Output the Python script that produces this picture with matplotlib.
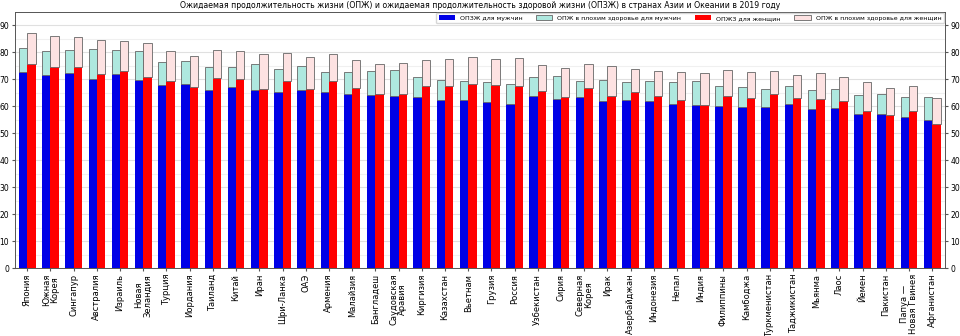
import matplotlib
matplotlib.use("Agg")
import matplotlib.pyplot as plt
import numpy as np

countries = ["Япония", "Южная\nКорея", "Сингапур", "Австралия", "Израиль", "Новая\nЗеландия",
             "Турция", "Иордания", "Таиланд", "Китай", "Иран", "Шри-Ланка", "ОАЭ", "Армения",
             "Малайзия", "Бангладеш", "Саудовская\nАравия", "Киргизия", "Казахстан", "Вьетнам",
             "Грузия", "Россия", "Узбекистан", "Сирия", "Северная\nКорея", "Ирак", "Азербайджан",
             "Индонезия", "Непал", "Индия", "Филиппины", "Камбоджа", "Туркменистан",
             "Таджикистан", "Мьянма", "Лаос", "Йемен", "Пакистан", "Папуа —\nНовая Гвинея",
             "Афганистан"]

# Healthy life expectancy (HALE), men
hale_m = [72.6, 71.4, 72.4, 70.2, 72.1, 69.7, 68.0, 68.2, 65.9, 67.3, 66.1, 65.4, 65.9, 65.1,
          64.6, 64.1, 63.8, 63.5, 62.4, 62.4, 61.6, 60.7, 63.7, 62.7, 63.3, 61.8, 62.2, 61.9,
          60.7, 60.3, 60.1, 59.8, 59.8, 60.8, 58.9, 59.2, 57.0, 57.0, 56.1, 54.8]
# Life expectancy, men
le_m = [81.4, 80.4, 80.9, 81.3, 80.9, 80.4, 76.5, 76.8, 74.4, 74.6, 75.7, 73.9, 75.0, 72.6,
        72.6, 73.0, 73.3, 70.7, 69.8, 69.4, 68.8, 68.3, 70.7, 71.2, 69.2, 69.8, 68.9, 69.4,
        68.9, 69.4, 67.5, 67.2, 66.5, 67.5, 65.9, 66.2, 64.3, 64.5, 63.3, 63.4]
# Healthy life expectancy (HALE), women
hale_f = [75.6, 74.6, 74.6, 71.9, 72.9, 70.9, 69.2, 67.3, 70.5, 69.9, 66.5, 69.2, 66.2, 69.2,
          66.9, 64.4, 64.4, 67.6, 67.5, 68.3, 67.8, 67.5, 65.7, 63.4, 66.6, 63.8, 65.3, 63.8,
          62.2, 60.5, 63.9, 62.9, 64.4, 63.0, 62.8, 62.1, 58.2, 56.8, 58.2, 53.3]
# Life expectancy, women
le_f = [87.0, 86.1, 85.6, 84.7, 84.1, 83.5, 80.5, 78.7, 80.9, 80.5, 79.2, 79.8, 78.3, 79.2,
        77.2, 75.7, 76.1, 77.2, 77.6, 78.1, 77.6, 77.9, 75.2, 74.1, 75.6, 75.0, 73.9, 73.1,
        72.6, 72.3, 73.5, 72.8, 73.0, 71.7, 72.3, 70.8, 68.9, 66.6, 67.5, 63.2]

labels = ["ОПЗЖ для мужчин", "ОПЖ в плохим здоровье для мужчин",
          "ОПЖЗ для женщин", "ОПЖ в плохим здоровье для женщин"]

hale_m, le_m, hale_f, le_f = map(np.array, (hale_m, le_m, hale_f, le_f))
x = np.arange(len(countries))
w = 0.36

fig = plt.figure(figsize=(9.6, 3.36), dpi=100)
ax = fig.add_axes([14.5 / 960, 1 - 268.3 / 336, 930.5 / 960, 256.6 / 336])

ax.set_axisbelow(True)
ax.yaxis.set_major_locator(matplotlib.ticker.MultipleLocator(10))
ax.yaxis.set_minor_locator(matplotlib.ticker.MultipleLocator(5))
ax.grid(axis="y", which="major", color="#e0e0e0", linewidth=0.8)
ax.grid(axis="y", which="minor", color="#f0f0f0", linewidth=0.8)

ax.bar(x - w / 2, hale_m, w, color="#0000e6", label=labels[0])
ax.bar(x - w / 2, le_m - hale_m, w, bottom=hale_m, color="#aee8df",
       edgecolor="#666666", linewidth=0.6, label=labels[1])
ax.bar(x + w / 2, hale_f, w, color="#ff0000", label=labels[2])
ax.bar(x + w / 2, le_f - hale_f, w, bottom=hale_f, color="#fde2e2",
       edgecolor="#666666", linewidth=0.6, label=labels[3])

for s in ax.spines.values():
    s.set_color("#555555")
    s.set_linewidth(0.7)

ax.set_xlim(-0.55, len(countries) - 0.45)
ax.set_ylim(0, 95)
ax.set_xticks(x)
ax.set_xticklabels(countries, rotation=90, fontsize=6, ha="center", multialignment="center",
                   linespacing=0.95)
ax.tick_params(axis="y", labelsize=5.5, right=True, labelright=True, which="major",
               length=2.5, pad=1.5, color="#555555")
ax.tick_params(axis="y", which="minor", length=0)
ax.tick_params(axis="x", length=2.5, pad=1.5, color="#555555")

ax.set_title("Ожидаемая продолжительность жизни (ОПЖ) и ожидаемая продолжительность здоровой жизни (ОПЗЖ) "
             "в странах Азии и Океании в 2019 году", fontsize=5.6, pad=2.5)

ax.legend(loc="upper right", ncol=4, fontsize=4.5, frameon=True, handlelength=2.6,
          handleheight=0.7, columnspacing=2.2, borderaxespad=0.2, fancybox=True,
          edgecolor="#cccccc")

fig.savefig("out.png", dpi=100)
